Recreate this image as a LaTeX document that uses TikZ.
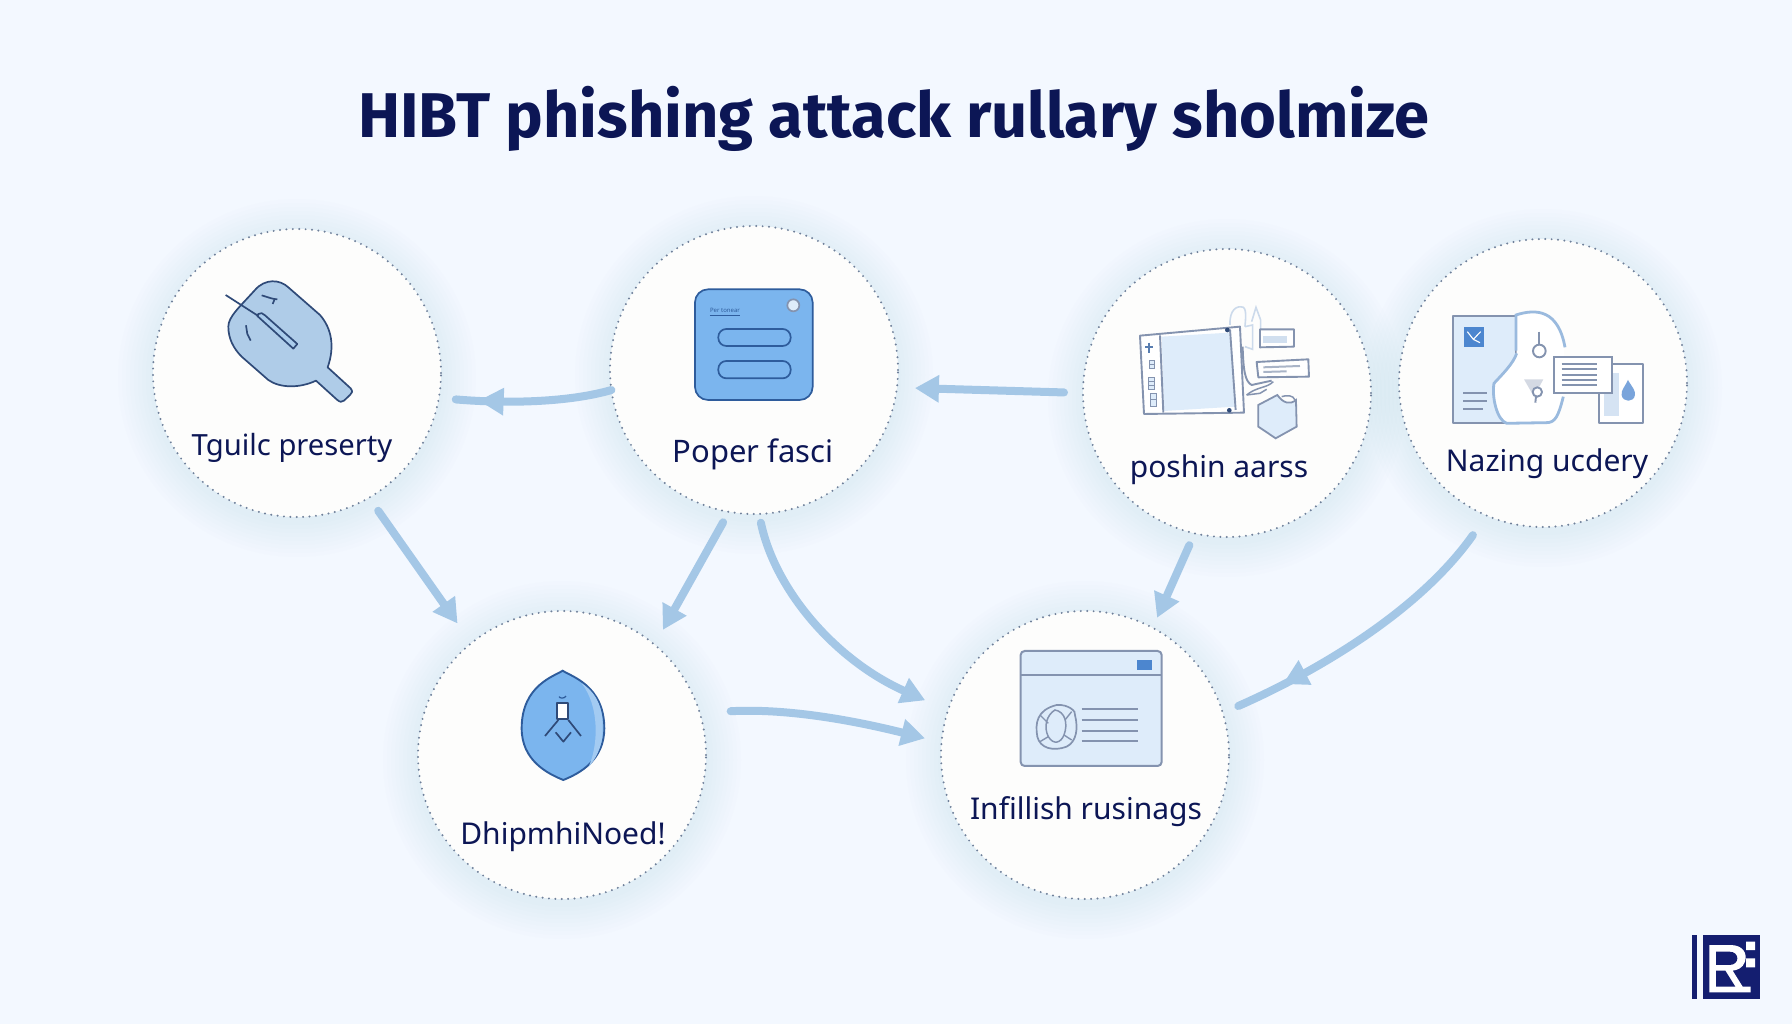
\documentclass[tikz,border=0pt]{standalone}
\usepackage{fontspec}
\setmainfont{Noto Sans}
\newfontfamily\titlef{Fira Sans}
\usetikzlibrary{arrows.meta,decorations.markings}
\definecolor{bgc}{HTML}{F3F8FF}
\definecolor{glow}{HTML}{B4D2F0}
\definecolor{disc}{HTML}{FDFDFC}
\definecolor{rim}{HTML}{6F809A}
\definecolor{flowc}{HTML}{A4C7E6}
\definecolor{navy}{HTML}{0C1655}
\definecolor{inkc}{HTML}{2F4A78}
\definecolor{softl}{HTML}{8493AF}
\definecolor{paddle}{HTML}{AFCCE8}
\definecolor{bluef}{HTML}{7BB5EE}
\definecolor{bluel}{HTML}{A3CBF2}
\definecolor{blues}{HTML}{2E5C9C}
\definecolor{pale}{HTML}{DEECFA}
\definecolor{midb}{HTML}{4C86CF}
\definecolor{logoc}{HTML}{141E70}
\tikzset{
  zoomframe/.style={x=0.3333pt,y=-0.3333pt},
  hub/.style={circle,minimum size=288pt,inner sep=0pt,outer sep=0pt,fill=disc,draw=rim,line width=2.2pt,line cap=round,dash pattern=on 0pt off 6.4pt},
  lbl/.style={text=navy,font=\fontsize{30}{33}\selectfont,inner sep=0pt},
  flow/.style={draw=flowc,line width=8pt,line cap=round},
  flowhead/.style={flow,-{Triangle[length=24pt,width=26pt]}},
  midhead/.style={flow,postaction={decorate,decoration={markings,mark=at position #1 with {\arrow{Triangle[length=25pt,width=26pt]}}}}},
  thinink/.style={draw=inkc,line width=1.7pt,line join=round},
  softink/.style={draw=softl,line width=1.9pt,line join=round},
}
\newcommand{\halo}[2]{%
  \foreach \rr in {147,151,...,179}{\fill[glow,opacity=0.028] (#1,#2+5) circle[radius=\rr pt];}}
\begin{document}
\begin{tikzpicture}[x=1pt,y=-1pt]
\useasboundingbox (0,0) rectangle (1792,1024);
\fill[bgc] (0,0) rectangle (1792,1024);
\halo{297}{373}\halo{754}{370}\halo{1227}{393}\halo{1543}{383}\halo{562}{755}\halo{1085}{755}
\node[hub] (c1) at (297,373) {};
\node[hub] (c2) at (754,370) {};
\node[hub] (c3) at (1227,393) {};
\node[hub] (c4) at (1543,383) {};
\node[hub] (c5) at (562,755) {};
\node[hub] (c6) at (1085,755) {};
% title
\node[text=navy,font=\titlef\fontsize{63.2}{68}\selectfont\bfseries,inner sep=0pt] (title) at (894,119) {HIBT phishing attack rullary sholmize};
% labels
\node[lbl,font=\fontsize{29.2}{33}\selectfont] (t1) at (292,448) {Tguilc preserty};
\node[lbl,font=\fontsize{31}{33}\selectfont] (t2) at (753,454) {Poper fasci};
\node[lbl] (t3) at (1219,470) {poshin aarss};
\node[lbl] (t4) at (1547,464) {Nazing ucdery};
\node[lbl] (t5) at (563,837) {DhipmhiNoed!};
\node[lbl] (t6) at (1086,812) {Infillish rusinags};
% connectors
\path[midhead=0.77,shorten >=17pt] (c2.188) .. controls (570,402) and (510,404) .. (c1.-10);
\path[flowhead,shorten <=19pt,shorten >=18pt] (c3.180) -- (c2.-7);
\path[flowhead,shorten <=16pt,shorten >=24pt] (c1.-60) -- (c5.129);
\path[flowhead,shorten <=12pt,shorten >=17pt] (c2.-100) -- (c5.50);
\path[flowhead,shorten <=9pt,shorten >=25pt] (c2.-88) .. controls (775,590) and (835,660) .. (c6.162);
\path[flowhead,shorten <=31pt,shorten >=17pt] (c5.17) .. controls (790,708) and (860,722) .. (c6.175);
\path[flowhead,shorten <=13pt,shorten >=11pt] (c3.-103) -- (c6.62);
\path[midhead=0.80,shorten <=24pt,shorten >=17pt] (c4.-113) .. controls (1420,610) and (1320,670) .. (c6.17);
% icon 1
\begin{scope}[shift={(140,210)},zoomframe]
\path[fill=paddle,thinink] (265,350) .. controls (265,320) and (300,290) .. (345,240) .. controls (375,205) and (420,208) .. (445,232) -- (540,315) .. controls (575,355) and (585,410) .. (563,472) -- (632,535) .. controls (640,545) and (635,550) .. (630,555) -- (612,572) .. controls (605,578) and (600,576) .. (592,570) -- (528,512) .. controls (480,535) and (420,535) .. (385,510) -- (305,440) .. controls (280,415) and (265,385) .. (265,350) -- cycle;
\path[fill=bluel!45!paddle,thinink] (355,312) .. controls (362,306) and (368,310) .. (375,316) -- (472,402) -- (460,416) -- (352,318) -- cycle;
\draw[thinink] (257,255) -- (355,318);
\draw[thinink] (365,256) .. controls (385,262) and (400,268) .. (412,268);
\draw[thinink] (403,270) -- (398,282);
\draw[thinink] (318,346) -- (322,372) -- (332,392);
\end{scope}
% icon 2
\begin{scope}[shift={(600,210)},zoomframe]
\path[fill=bluef,draw=blues,line width=1.7pt,rounded corners=13pt] (285,238) rectangle (638,570);
\path[fill=pale,draw=softl,line width=1.7pt] (580,286) circle[radius=18];
\path[draw=blues,line width=1.7pt,rounded corners=8pt] (355,357) rectangle (572,408);
\path[draw=blues,line width=1.7pt,rounded corners=8pt] (355,453) rectangle (572,505);
\node[text=blues,font=\fontsize{6}{6}\selectfont\bfseries,inner sep=0pt] (mini) at (375,301) {Per tonear};
\draw[blues,line width=0.7pt] (330,317) -- (420,317);
\end{scope}
% icon 3
\begin{scope}[shift={(1070,230)},zoomframe]
\path[draw=pale!80!softl,line width=1.6pt] (480,285) .. controls (478,240) and (500,225) .. (520,232) .. controls (532,240) and (525,280) .. (525,290);
\path[draw=pale!80!softl,line width=1.6pt] (545,275) -- (558,232) -- (572,270) -- (572,350);
\path[draw=pale!80!softl,line width=1.6pt] (525,290) -- (548,285) -- (548,358) -- (525,350);
\path[fill=white,softink] (210,317) -- (510,290) -- (522,548) -- (222,552) -- cycle;
\path[fill=pale] (275,320) -- (478,308) -- (495,530) -- (282,543) -- cycle;
\draw[softink] (270,316) -- (280,548);
\draw[softink] (480,298) -- (497,540);
\fill[inkc] (472,300) circle[radius=7];
\fill[inkc] (478,541) circle[radius=7];
\path[draw=blues!80!white,line width=2.2pt] (238,338) -- (238,368) (226,352) -- (250,352);
\path[fill=pale,draw=softl,line width=0.8pt] (238,392) rectangle (252,416) (236,442) rectangle (252,478) (240,490) rectangle (258,528);
\draw[softl,line width=0.8pt] (238,404) -- (252,404) (236,454) -- (252,454) (236,466) -- (252,466) (240,508) -- (258,508);
\draw[softink] (518,350) .. controls (520,420) and (525,455) .. (545,465) -- (605,452);
\path[draw=softl,line width=1.5pt] (530,495) .. controls (560,470) and (590,475) .. (610,455);
\path[draw=softl,line width=1.5pt] (530,495) -- (570,490) -- (590,478);
\path[fill=white,softink] (570,298) -- (672,298) -- (672,350) -- (570,352) -- cycle;
\fill[pale!85!softl] (580,318) rectangle (650,340);
\path[fill=white,softink] (560,396) -- (715,388) -- (717,440) -- (565,442) -- cycle;
\draw[softl!70!white,line width=2pt] (580,412) -- (690,408) (580,426) -- (650,424);
\path[fill=pale,draw=softl,line width=1.8pt] (622,495) .. controls (640,520) and (660,525) .. (678,510) -- (680,590) -- (617,625) -- (565,590) -- (565,525) -- cycle;
\draw[softl,line width=1.5pt] (635,500) .. controls (650,495) and (670,495) .. (675,510);
\end{scope}
% icon 4
\begin{scope}[shift={(1390,230)},zoomframe]
\path[fill=pale,softink] (190,258) rectangle (378,578);
\path[fill=white,draw=none] (378,255) .. controls (440,235) and (500,240) .. (522,350) -- (520,500) .. controls (505,560) and (495,578) .. (470,578) -- (350,580) .. controls (320,570) and (305,500) .. (312,460) .. controls (340,430) and (370,400) .. (380,370) -- cycle;
\path[draw=bluel!70!softl,line width=2.8pt] (378,362) -- (378,255) .. controls (440,235) and (505,240) .. (525,352);
\path[draw=bluel!70!softl,line width=2.8pt] (380,370) .. controls (370,400) and (340,430) .. (312,460) .. controls (305,500) and (320,570) .. (350,580) -- (470,578) .. controls (495,578) and (505,560) .. (520,500);
\fill[midb] (222,290) rectangle (282,352);
\draw[white,line width=1.1pt] (232,305) -- (250,328) -- (272,305) (250,328) -- (270,338);
\draw[softink] (220,490) -- (290,490) (220,512) -- (290,512) (220,536) -- (280,536);
\draw[softink] (448,305) -- (448,345);
\draw[softink] (448,363) circle[radius=19];
\fill[softl!35!white] (402,448) -- (460,448) -- (432,500) -- cycle;
\path[fill=white,softink] (442,486) circle[radius=14];
\draw[softink] (438,500) -- (436,518);
\path[fill=white,draw=white] (627,403) rectangle (758,578);
\draw[softink,line width=2.2pt] (627,403) rectangle (758,578);
\fill[pale!90!softl] (643,430) rectangle (688,558);
\path[fill=midb!75!white] (714,450) .. controls (725,470) and (737,480) .. (735,495) .. controls (732,518) and (698,518) .. (695,495) .. controls (693,480) and (705,470) .. (714,450) -- cycle;
\path[fill=white,draw=softl,line width=2pt] (492,382) rectangle (665,490);
\draw[softl,line width=2pt] (515,403) -- (620,403) (515,418) -- (620,418) (515,434) -- (620,434) (515,450) -- (620,450) (515,466) -- (620,466);
\end{scope}
% icon 5
\begin{scope}[shift={(410,600)},zoomframe]
\path[fill=bluef,draw=blues,line width=1.9pt] (458,212) .. controls (480,228) and (583,255) .. (583,385) .. controls (583,480) and (510,520) .. (460,540) .. controls (410,520) and (335,480) .. (335,385) .. controls (335,255) and (435,228) .. (458,212) -- cycle;
\fill[bluel] (515,250) .. controls (570,285) and (580,340) .. (578,395) .. controls (578,440) and (555,480) .. (535,502) .. controls (565,440) and (570,320) .. (515,250) -- cycle;
\draw[blues,line width=1.2pt] (447,290) .. controls (450,296) and (465,296) .. (468,288);
\path[fill=white,thinink] (440,310) rectangle (473,358);
\draw[thinink] (445,360) -- (405,408) (475,360) -- (513,408) (437,397) -- (460,425) -- (483,397);
\end{scope}
% icon 6
\begin{scope}[shift={(940,600)},zoomframe]
\path[fill=pale,draw=softl,line width=2pt,rounded corners=4pt] (242,153) rectangle (665,498);
\draw[softl,line width=2pt] (242,225) -- (665,225);
\fill[midb] (590,180) rectangle (635,210);
\draw[softl,line width=1.8pt] (425,328) -- (595,328) (425,360) -- (595,360) (425,392) -- (595,392) (425,422) -- (595,422);
\draw[softl,line width=1.7pt] (350,315) .. controls (385,312) and (410,335) .. (405,345) .. controls (415,385) and (410,425) .. (380,440) .. controls (340,455) and (300,445) .. (292,410) .. controls (285,370) and (290,330) .. (350,315) -- cycle;
\draw[softl,line width=1.5pt] (345,330) .. controls (375,335) and (385,370) .. (372,405) .. controls (362,430) and (340,435) .. (325,410) .. controls (310,380) and (320,345) .. (345,330) -- cycle;
\draw[softl,line width=1.4pt] (300,345) -- (325,370) (395,335) -- (375,360) (300,425) -- (325,410) (395,420) -- (372,405);
\end{scope}
% logo
\begin{scope}[shift={(1660,910)},zoomframe]
\fill[logoc] (95,75) rectangle (112,268);
\fill[logoc] (130,75) rectangle (300,268);
\fill[white] (148,105) -- (210,105) .. controls (250,105) and (262,130) .. (255,155) .. controls (248,175) and (232,180) .. (218,182) -- (248,230) -- (272,230) -- (272,247) -- (148,247) -- cycle;
\fill[logoc] (168,125) -- (208,125) .. controls (240,125) and (240,165) .. (208,165) -- (168,165) -- cycle;
\fill[logoc] (168,182) -- (196,182) -- (226,230) -- (168,230) -- cycle;
\fill[white] (258,95) rectangle (285,120) (258,145) rectangle (285,172);
\end{scope}
\end{tikzpicture}
\end{document}
